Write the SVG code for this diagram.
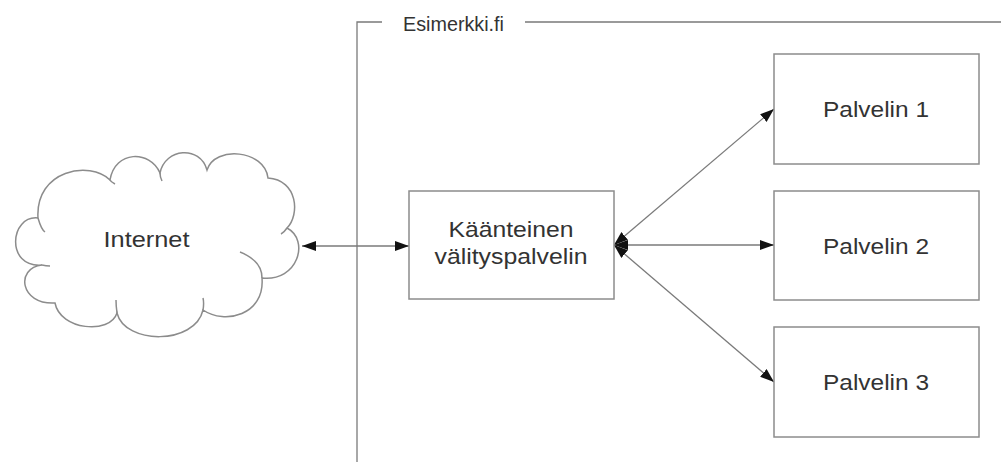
<svg xmlns="http://www.w3.org/2000/svg" width="1001" height="462" viewBox="0 0 1001 462">
<defs>
<style>
.box{fill:#fff;stroke:#8c8c8c;stroke-width:1.5}
.lbl{font-family:"Liberation Sans",Arial,sans-serif;font-size:22px;fill:#333;text-anchor:middle}
.frame{fill:none;stroke:#7a7a7a;stroke-width:1.3}
.conn{fill:none;stroke:#7a7a7a;stroke-width:1.3;marker-start:url(#ah);marker-end:url(#ah)}
</style>
<marker id="ah" markerUnits="userSpaceOnUse" markerWidth="15" markerHeight="12" refX="14" refY="5" orient="auto-start-reverse">
<path d="M0,0 L14,5 L0,10 z" fill="#111"/>
</marker>
</defs>
<rect width="1001" height="462" fill="#fff"/>
<g id="frame">
<path class="frame" d="M357,462 V22 H382 M525,22 H1001"/>
<text x="453.5" y="31" class="lbl" style="font-size:20px" textLength="101" lengthAdjust="spacingAndGlyphs">Esimerkki.fi</text>
</g>
<g id="connectors">
<line class="conn" x1="302" y1="246" x2="409" y2="246"/>
<line class="conn" x1="614" y1="245" x2="774" y2="109"/>
<line class="conn" x1="614" y1="245" x2="774" y2="245"/>
<line class="conn" x1="614" y1="245" x2="774" y2="382"/>
</g>
<g id="internet">
<path class="box" d="M38,218 C10,215 5,268 42,265 C15,268 20,305 55,303 C60,330 110,335 117,313 C125,345 195,345 203,310 C225,325 265,315 262,278 C298,282 310,240 287,228 C300,215 298,180 268,178 C265,150 215,145 207,170 C200,145 165,148 160,173 C150,150 115,150 110,180 C90,160 35,170 38,218 Z"/>
<path fill="none" stroke="#8c8c8c" stroke-width="1.5" d="M38,218 C40,225 42,230 45,232 M42,265 C46,266 48,266 50,266 M117,313 C116,306 116,303 116,300 M203,310 C204,304 204,302 203,298 M262,278 C262,266 255,258 240,252 M287,228 C285,231 283,233 281,234 M160,173 C160,177 161,179 162,181 M110,180 C111,182 113,183 115,184"/>
<text x="146.5" y="247" class="lbl" textLength="86" lengthAdjust="spacingAndGlyphs">Internet</text>
</g>
<g id="proxy">
<rect class="box" x="409" y="191" width="205" height="108"/>
<text x="511" y="237" class="lbl" textLength="125" lengthAdjust="spacingAndGlyphs">Käänteinen</text>
<text x="511" y="264" class="lbl" textLength="153" lengthAdjust="spacingAndGlyphs">välityspalvelin</text>
</g>
<g id="palvelin1">
<rect class="box" x="774" y="54" width="205" height="110"/>
<text x="876" y="117" class="lbl" textLength="106" lengthAdjust="spacingAndGlyphs">Palvelin 1</text>
</g>
<g id="palvelin2">
<rect class="box" x="774" y="191" width="205" height="109"/>
<text x="876" y="254" class="lbl" textLength="106" lengthAdjust="spacingAndGlyphs">Palvelin 2</text>
</g>
<g id="palvelin3">
<rect class="box" x="774" y="327" width="205" height="110"/>
<text x="876" y="390" class="lbl" textLength="106" lengthAdjust="spacingAndGlyphs">Palvelin 3</text>
</g>
</svg>
